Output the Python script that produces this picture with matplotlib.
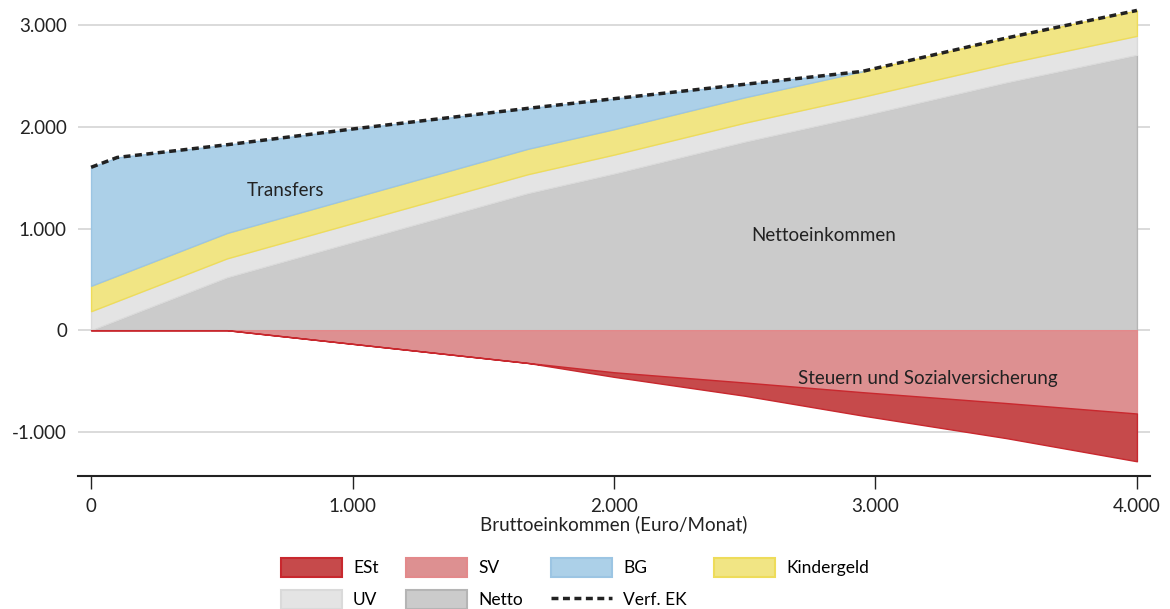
import matplotlib
matplotlib.use("Agg")
import matplotlib.pyplot as plt
import numpy as np
from matplotlib.patches import Patch
from matplotlib.lines import Line2D
from matplotlib.ticker import FuncFormatter

plt.rcParams['font.family'] = ['Lato', 'DejaVu Sans']

# Data (Euro/Monat)
brutto = [0, 100, 520, 1000, 1670, 2000, 2500, 2950, 3500, 4000]
sv     = [0, 0, 0, 134, 322, 414, 515, 610, 717, 820]
est    = [0, 0, 0, 0, 0, 45, 130, 230, 345, 470]
netto  = [0, 100, 520, 866, 1348, 1541, 1855, 2110, 2438, 2710]
uv     = [187, 187, 187, 187, 187, 187, 187, 187, 187, 187]
kindergeld = [250, 250, 250, 250, 250, 250, 250, 250, 250, 250]
bg     = [1166, 1163, 868, 677, 398, 300, 128, 0, 0, 0]

xticks = [0, 1000, 2000, 3000, 4000]
yticks = [-1000, 0, 1000, 2000, 3000]

x = np.array(brutto, float)
n = np.array(netto, float)
u = n + np.array(uv, float)
k = u + np.array(kindergeld, float)
b = k + np.array(bg, float)
s = -np.array(sv, float)
e = s - np.array(est, float)

fig = plt.figure(figsize=(11.7, 6.09), dpi=100)
ax = fig.add_axes([78/1170, 1-476/609, (1150-78)/1170, 473/609])

c_est, c_est_e = '#c64a4b', '#c8282e'
c_sv, c_sv_e = '#dd9091', '#e3898b'
c_bg, c_bg_e = '#acd0e8', '#9cc5e3'
c_kg, c_kg_e = '#f1e584', '#eedc5a'
c_uv, c_uv_e = '#e4e4e4', '#dadada'
c_n, c_n_e = '#cbcbcb', '#b5b5b5'

ax.fill_between(x, 0, n, facecolor=c_n, edgecolor=c_n_e, lw=1, zorder=2)
ax.fill_between(x, n, u, facecolor=c_uv, edgecolor=c_uv_e, lw=1, zorder=2)
ax.fill_between(x, u, k, facecolor=c_kg, edgecolor=c_kg_e, lw=1, zorder=2)
ax.fill_between(x, k, b, where=np.array(bg) > 0, interpolate=True,
                facecolor=c_bg, edgecolor=c_bg_e, lw=1, zorder=2)
ax.fill_between(x, 0, s, facecolor=c_sv, edgecolor=c_sv_e, lw=1, zorder=2)
ax.fill_between(x, s, e, facecolor=c_est, edgecolor=c_est_e, lw=1, zorder=2)
ax.plot(x, b, color='#222222', lw=2.5, dashes=(2, 1.3), zorder=4)

ax.set_xlim(-50, 4050)
ax.set_ylim(-1435, 3220)
ax.set_xticks(xticks)
ax.set_yticks(yticks)
fmt = FuncFormatter(lambda v, p: f"{int(v):,}".replace(",", "."))
ax.xaxis.set_major_formatter(fmt)
ax.yaxis.set_major_formatter(fmt)
ax.grid(axis='y', color='#d4d4d4', lw=1.2, zorder=0)
ax.set_axisbelow(True)
for sp in ['left', 'right', 'top']:
    ax.spines[sp].set_visible(False)
ax.spines['bottom'].set_color('#222222')
ax.spines['bottom'].set_linewidth(1.5)
ax.tick_params(axis='y', length=0, pad=8, labelsize=13.5, labelcolor='#222222')
ax.tick_params(axis='x', length=9, width=1, color='#222222', pad=7,
               labelsize=13.5, labelcolor='#222222')
ax.set_xlabel('Bruttoeinkommen (Euro/Monat)', fontsize=13.5, color='#222222', labelpad=0)

ax.text(743, 1377, 'Transfers', fontsize=13.5, ha='center', va='center', color='#222222', zorder=5)
ax.text(2802, 934, 'Nettoeinkommen', fontsize=13.5, ha='center', va='center', color='#222222', zorder=5)
ax.text(3200, -472, 'Steuern und Sozialversicherung', fontsize=13.5, ha='center', va='center',
        color='#222222', zorder=5)

handles = [
    Patch(facecolor=c_est, edgecolor=c_est_e, lw=1.5, label='ESt'),
    Patch(facecolor=c_uv, edgecolor=c_uv_e, lw=1.5, label='UV'),
    Patch(facecolor=c_sv, edgecolor=c_sv_e, lw=1.5, label='SV'),
    Patch(facecolor=c_n, edgecolor=c_n_e, lw=1.5, label='Netto'),
    Patch(facecolor=c_bg, edgecolor=c_bg_e, lw=1.5, label='BG'),
    Line2D([0], [0], color='#222222', lw=2.5, dashes=(2, 1.3), label='Verf. EK'),
    Patch(facecolor=c_kg, edgecolor=c_kg_e, lw=1.5, label='Kindergeld'),
]
fig.legend(handles=handles, ncol=4, loc='upper left',
           bbox_to_anchor=(281/1170, 1-558/609), frameon=False,
           fontsize=12.5, handlelength=3.5, handleheight=1.3, handletextpad=0.65,
           columnspacing=1.6, labelspacing=0.75, borderpad=0, borderaxespad=0)

fig.savefig('out.png', dpi=100)
